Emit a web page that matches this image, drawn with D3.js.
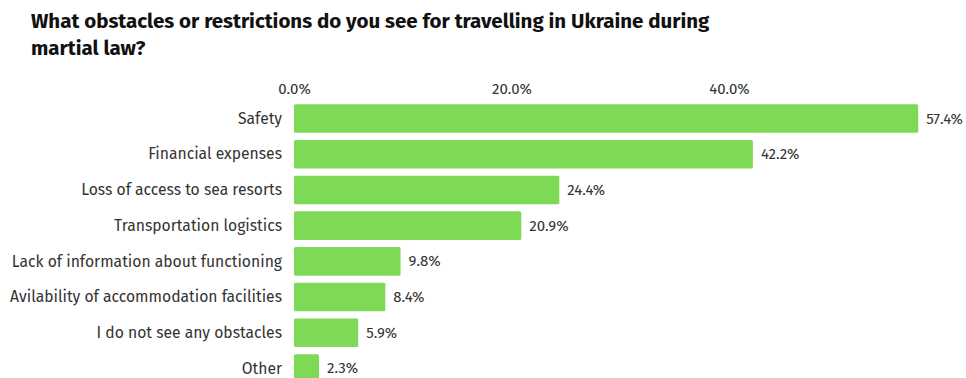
<!DOCTYPE html>
<html>
<head>
<meta charset="utf-8">
<script src="https://cdn.jsdelivr.net/npm/d3@7"></script>
<style>
  body { margin: 0; background: #fff; }
  svg { display: block; font-family: "Fira Sans", Lato, "Open Sans", sans-serif; }
</style>
</head>
<body>
<svg id="chart" width="966" height="378"></svg>
<script>
const titleLines = [
  "What obstacles or restrictions do you see for travelling in Ukraine during",
  "martial law?"
];
const categories = [
  "Safety",
  "Financial expenses",
  "Loss of access to sea resorts",
  "Transportation logistics",
  "Lack of information about functioning",
  "Avilability of accommodation facilities",
  "I do not see any obstacles",
  "Other"
];
const values = [57.4, 42.2, 24.4, 20.9, 9.8, 8.4, 5.9, 2.3];
const tickValues = [0, 20, 40];

const svg = d3.select("#chart");

svg.append("g")
  .selectAll("text")
  .data(titleLines)
  .join("text")
  .attr("x", 31)
  .attr("y", (d, i) => 28 + i * 27)
  .attr("font-size", 20.5)
  .attr("font-weight", 700)
  .attr("fill", "#111")
  .text(d => d);

const x = d3.scaleLinear().domain([0, 40]).range([294, 729]);
const y = d3.scaleBand().domain(categories).range([100.7, 386.3]).paddingInner(0.2).paddingOuter(0.1);

// top axis: tick labels only
const xAxis = svg.append("g")
  .attr("transform", "translate(0,94)")
  .call(d3.axisTop(x).tickValues(tickValues).tickFormat(d => d.toFixed(1) + "%").tickSize(0).tickPadding(0))
  .attr("font-family", null)
  .attr("font-size", null);
xAxis.select(".domain").remove();
xAxis.selectAll("text")
  .attr("font-size", 15)
  .attr("fill", "#333");

// category labels
const yAxis = svg.append("g")
  .attr("transform", "translate(282,0)")
  .call(d3.axisLeft(y).tickSize(0).tickPadding(0))
  .attr("font-family", null)
  .attr("font-size", null);
yAxis.select(".domain").remove();
yAxis.selectAll("text")
  .attr("font-size", 15.7)
  .attr("fill", "#333")
  .attr("dy", "0.33em");

// bars
svg.append("g")
  .selectAll("rect")
  .data(values)
  .join("rect")
  .attr("x", x(0))
  .attr("y", (d, i) => y(categories[i]))
  .attr("width", d => x(d) - x(0))
  .attr("height", y.bandwidth())
  .attr("rx", 1.5)
  .attr("fill", "#7ed957");

// value labels
svg.append("g")
  .selectAll("text")
  .data(values)
  .join("text")
  .attr("x", d => x(d) + 8)
  .attr("y", (d, i) => y(categories[i]) + y.bandwidth() / 2)
  .attr("dy", "0.33em")
  .attr("font-size", 15)
  .attr("fill", "#333")
  .text(d => d.toFixed(1) + "%");
</script>
</body>
</html>
